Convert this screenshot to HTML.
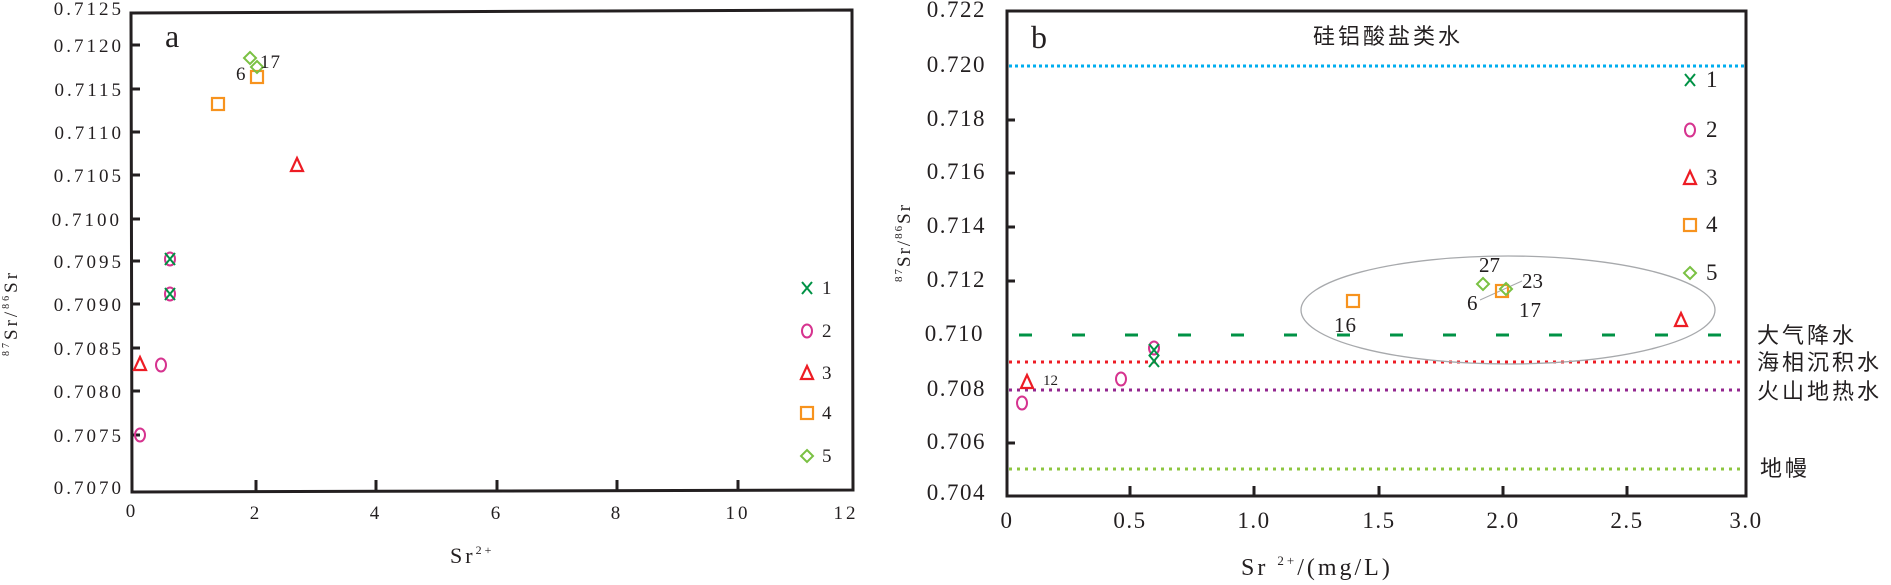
<!DOCTYPE html>
<html><head><meta charset="utf-8"><style>
html,body{margin:0;padding:0;background:#fff;}
svg{display:block;}
text{font-family:"Liberation Serif","Noto Serif CJK SC",serif;fill:#231f20;}
.t{font-size:19px;letter-spacing:3px;}
.tb{font-size:23px;letter-spacing:1.5px;}
.c{font-family:"Liberation Serif","Noto Sans CJK SC",sans-serif;font-size:22px;letter-spacing:3px;}
</style></head><body>
<svg width="1891" height="585" viewBox="0 0 1891 585" xmlns="http://www.w3.org/2000/svg">
<defs>
<g id="X"><path d="M-5,-6 L5,6 M5,-6 L-5,6" stroke="#009245" stroke-width="2" fill="none"/></g>
<g id="O"><ellipse rx="5" ry="6.5" stroke="#d6338f" stroke-width="2" fill="none"/></g>
<g id="T"><path d="M0,-7 L6,6 L-6,6 Z" stroke="#ed1c24" stroke-width="2.2" fill="none"/></g>
<g id="S"><rect x="-6" y="-6" width="12" height="12" stroke="#f7931e" stroke-width="2.2" fill="none"/></g>
<g id="D"><path d="M0,-6 L6,0 L0,6 L-6,0 Z" stroke="#7ac143" stroke-width="2" fill="none"/></g>
</defs>

<!-- Chart a -->
<path d="M131,13 L852,10 L853,490 L132,492 Z" fill="none" stroke="#231f20" stroke-width="3"/>
<g stroke="#231f20" stroke-width="3">
<line x1="132" y1="45" x2="140" y2="45"/><line x1="132" y1="89" x2="140" y2="89"/>
<line x1="132" y1="132" x2="140" y2="132"/><line x1="132" y1="175" x2="140" y2="175"/>
<line x1="132" y1="219" x2="140" y2="219"/><line x1="132" y1="261" x2="140" y2="261"/>
<line x1="132" y1="304" x2="140" y2="304"/><line x1="132" y1="348" x2="140" y2="348"/>
<line x1="132" y1="391" x2="140" y2="391"/><line x1="132" y1="435" x2="140" y2="435"/>
<line x1="256" y1="480" x2="256" y2="491"/><line x1="376" y1="480" x2="376" y2="491"/>
<line x1="497" y1="480" x2="497" y2="491"/><line x1="617" y1="480" x2="617" y2="491"/>
<line x1="738" y1="480" x2="738" y2="491"/>
</g>
<g class="t" text-anchor="end">
<text x="124" y="15">0.7125</text><text x="124" y="52">0.7120</text><text x="124" y="96">0.7115</text>
<text x="124" y="139">0.7110</text><text x="124" y="182">0.7105</text><text x="122" y="226">0.7100</text>
<text x="124" y="268">0.7095</text><text x="124" y="311">0.7090</text><text x="124" y="355">0.7085</text>
<text x="124" y="398">0.7080</text><text x="124" y="442">0.7075</text><text x="124" y="494">0.7070</text>
</g>
<g class="t" text-anchor="middle">
<text x="132" y="517">0</text><text x="256" y="519">2</text><text x="376" y="519">4</text>
<text x="497" y="519">6</text><text x="617" y="519">8</text><text x="738" y="519">10</text><text x="846" y="519">12</text>
</g>
<text x="450" y="563" style="font-size:22px;letter-spacing:3px">Sr<tspan dy="-9" font-size="12">2+</tspan></text>
<text transform="translate(17,356) rotate(-90)" style="font-size:19px;letter-spacing:3px"><tspan font-size="10" dy="-8">87</tspan><tspan dy="8">Sr/</tspan><tspan font-size="10" dy="-8">86</tspan><tspan dy="8">Sr</tspan></text>
<text x="165" y="47" style="font-size:32px">a</text>
<use href="#D" x="250" y="58"/><use href="#S" x="257" y="77"/><use href="#D" x="257" y="67"/>
<use href="#S" x="218" y="104"/><use href="#T" x="297" y="165"/>
<use href="#O" x="170" y="259"/><use href="#X" x="170" y="259"/>
<use href="#O" x="170" y="294"/><use href="#X" x="170" y="294"/>
<use href="#T" x="140" y="364"/><use href="#O" x="161" y="365"/><use href="#O" x="140" y="435"/>
<text x="236" y="80" style="font-size:19px">6</text><text x="260" y="68" style="font-size:19px;letter-spacing:1px">17</text>
<use href="#X" x="807" y="288"/><text x="822" y="294" class="t">1</text>
<use href="#O" x="807" y="331"/><text x="822" y="337" class="t">2</text>
<use href="#T" x="807" y="373"/><text x="822" y="379" class="t">3</text>
<use href="#S" x="807" y="413"/><text x="822" y="419" class="t">4</text>
<use href="#D" x="807" y="456"/><text x="822" y="462" class="t">5</text>

<!-- Chart b -->
<rect x="1007" y="11" width="739" height="485" fill="none" stroke="#231f20" stroke-width="3"/>
<g stroke="#231f20" stroke-width="3">
<line x1="1007" y1="120" x2="1015" y2="120"/><line x1="1007" y1="173" x2="1015" y2="173"/>
<line x1="1007" y1="227" x2="1015" y2="227"/><line x1="1007" y1="281" x2="1015" y2="281"/>
<line x1="1007" y1="443" x2="1015" y2="443"/>
<line x1="1130" y1="486" x2="1130" y2="496"/><line x1="1254" y1="486" x2="1254" y2="496"/>
<line x1="1379" y1="486" x2="1379" y2="496"/><line x1="1503" y1="486" x2="1503" y2="496"/>
<line x1="1627" y1="486" x2="1627" y2="496"/>
</g>
<line x1="1009" y1="66" x2="1744" y2="66" stroke="#00aeef" stroke-width="3" stroke-dasharray="3,3"/>
<line x1="1009" y1="335" x2="1744" y2="335" stroke="#009245" stroke-width="3" stroke-dasharray="13,40" stroke-dashoffset="-10"/>
<line x1="1009" y1="362" x2="1744" y2="362" stroke="#ed1c24" stroke-width="3" stroke-dasharray="3,5"/>
<line x1="1009" y1="390" x2="1744" y2="390" stroke="#93278f" stroke-width="3" stroke-dasharray="3,5"/>
<line x1="1009" y1="469" x2="1744" y2="469" stroke="#8cc63f" stroke-width="3" stroke-dasharray="3,5"/>
<g class="tb" text-anchor="end">
<text x="986" y="17">0.722</text><text x="986" y="72">0.720</text><text x="986" y="126">0.718</text>
<text x="986" y="179">0.716</text><text x="986" y="233">0.714</text><text x="986" y="287">0.712</text>
<text x="984" y="341">0.710</text><text x="986" y="396">0.708</text><text x="986" y="449">0.706</text>
<text x="986" y="500">0.704</text>
</g>
<g class="tb" text-anchor="middle">
<text x="1007" y="528">0</text><text x="1130" y="528">0.5</text><text x="1254" y="528">1.0</text>
<text x="1379" y="528">1.5</text><text x="1503" y="528">2.0</text><text x="1627" y="528">2.5</text><text x="1746" y="528">3.0</text>
</g>
<text x="1241" y="575" style="font-size:24px;letter-spacing:3px">Sr <tspan dy="-10" font-size="13">2+</tspan><tspan dy="10">/(mg/L)</tspan></text>
<text transform="translate(910,282) rotate(-90)" style="font-size:19px;letter-spacing:2px"><tspan font-size="11" dy="-8">87</tspan><tspan dy="8">Sr/</tspan><tspan font-size="11" dy="-8">86</tspan><tspan dy="8">Sr</tspan></text>
<text x="1031" y="48" style="font-size:32px">b</text>
<text x="1313" y="44" class="c">硅铝酸盐类水</text>
<text x="1757" y="343" class="c">大气降水</text>
<text x="1757" y="370" class="c">海相沉积水</text>
<text x="1757" y="399" class="c">火山地热水</text>
<text x="1760" y="476" class="c">地幔</text>
<ellipse cx="1508" cy="310" rx="207" ry="54" fill="none" stroke="#a7a9ac" stroke-width="1.3"/>
<line x1="1480" y1="300" x2="1522" y2="281" stroke="#a7a9ac" stroke-width="1"/>
<use href="#O" x="1022" y="403"/><use href="#T" x="1027" y="382"/><text x="1043" y="385" style="font-size:15px">12</text>
<use href="#O" x="1121" y="379"/>
<use href="#O" x="1154" y="348"/><use href="#X" x="1154" y="350"/><use href="#X" x="1154" y="361"/>
<use href="#S" x="1353" y="301"/><text x="1334" y="332" style="font-size:21px;letter-spacing:1px">16</text>
<use href="#D" x="1483" y="284"/><text x="1479" y="272" style="font-size:21px">27</text>
<use href="#S" x="1502" y="291"/><use href="#D" x="1506" y="289"/>
<text x="1522" y="288" style="font-size:21px">23</text>
<text x="1467" y="310" style="font-size:21px">6</text>
<text x="1519" y="317" style="font-size:21px;letter-spacing:1px">17</text>
<use href="#T" x="1681" y="320"/>
<use href="#X" x="1690" y="80"/><text x="1706" y="87" class="tb">1</text>
<use href="#O" x="1690" y="130"/><text x="1706" y="137" class="tb">2</text>
<use href="#T" x="1690" y="178"/><text x="1706" y="185" class="tb">3</text>
<use href="#S" x="1690" y="225"/><text x="1706" y="232" class="tb">4</text>
<use href="#D" x="1690" y="273"/><text x="1706" y="280" class="tb">5</text>
</svg>
</body></html>
